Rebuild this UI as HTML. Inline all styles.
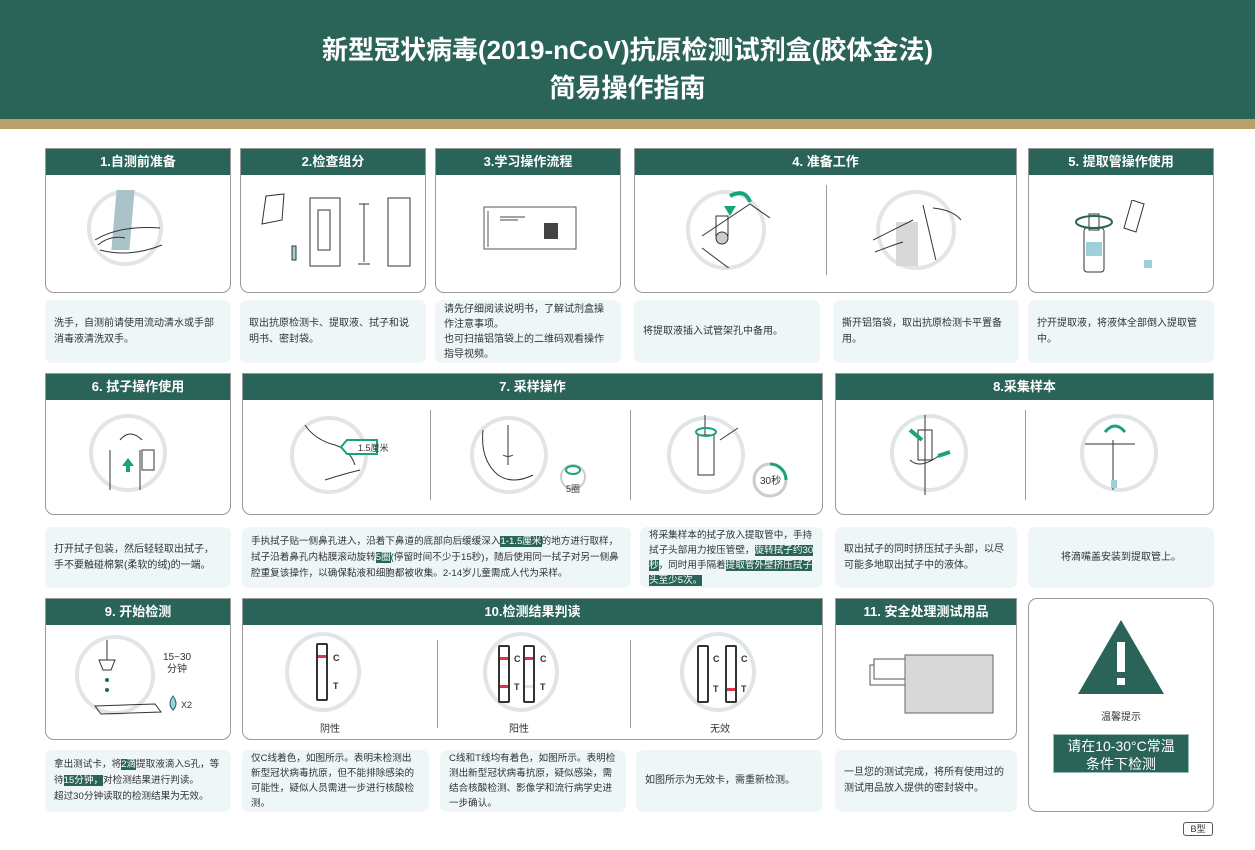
<!DOCTYPE html>
<html><head><meta charset="utf-8">
<style>
*{margin:0;padding:0;box-sizing:border-box}
body{width:1255px;height:850px;background:#fff;position:relative;overflow:hidden;font-family:"Liberation Sans","Noto Sans CJK SC",sans-serif;color:#333}
.top{position:absolute;left:0;top:0;width:1255px;height:119px;background:#2a6358;color:#fff;text-align:center;font-weight:bold;font-size:26px;line-height:38px;padding-top:31px}
.gold{position:absolute;left:0;top:119px;width:1255px;height:10px;background:#b9a06a}
.c{position:absolute;border:1px solid #999;border-radius:0 0 9px 9px;background:#fff;overflow:hidden}
.h{background:#2a6358;color:#fff;height:26px;line-height:26px;text-align:center;font-weight:bold;font-size:13px}
.t{position:absolute;background:#eef6f7;border-radius:7px;font-size:10px;line-height:16px;color:#333;display:flex;align-items:center;padding:0 9px}
.o{position:absolute;border:4px solid #dfe5e8;border-radius:50%}
.dv{position:absolute;width:1px;background:#999}
.hl{background:#2a6358;color:#fff}
.strip{position:absolute;width:12px;height:58px;border:2px solid #333;border-radius:2px;background:#fff}
.red{position:absolute;left:0;width:100%;height:3px;background:#e0304a}
.lb{position:absolute;font-size:9px;font-weight:bold}
.cap{position:absolute;font-size:10px;text-align:center;width:60px}
</style></head><body>
<div class="top">新型冠状病毒(2019-nCoV)抗原检测试剂盒(胶体金法)<br>简易操作指南</div>
<div class="gold"></div>

<!-- Row 1 -->
<div class="c" style="left:45px;top:148px;width:186px;height:145px"><div class="h">1.自测前准备</div></div>
<div class="c" style="left:240px;top:148px;width:186px;height:145px"><div class="h">2.检查组分</div></div>
<div class="c" style="left:435px;top:148px;width:186px;height:145px"><div class="h">3.学习操作流程</div></div>
<div class="c" style="left:634px;top:148px;width:383px;height:145px"><div class="h">4. 准备工作</div></div>
<div class="c" style="left:1028px;top:148px;width:186px;height:145px"><div class="h">5. 提取管操作使用</div></div>
<div class="dv" style="left:826px;top:185px;height:90px"></div>

<div class="o" style="left:87px;top:190px;width:76px;height:76px"></div>
<div style="position:absolute;left:114px;top:190px;width:18px;height:60px;background:#a9c3c8;transform:skewX(-5deg)"></div>
<svg style="position:absolute;left:90px;top:210px" width="80" height="50"><path d="M5 30 Q30 15 70 18 M10 40 Q40 48 72 35 M8 35 Q20 25 35 28" stroke="#333" fill="none"/></svg>

<svg style="position:absolute;left:258px;top:190px" width="160" height="80"><g stroke="#333" fill="none"><path d="M8 6 L26 4 L24 30 L4 34 Z"/><rect x="52" y="8" width="30" height="68"/><rect x="60" y="20" width="12" height="40"/><path d="M101 14 h10 M106 14 v58 M100 74 h12"/><rect x="130" y="8" width="22" height="68"/><rect x="34" y="56" width="4" height="14" fill="#9fd0d8"/></g></svg>

<svg style="position:absolute;left:480px;top:205px" width="100" height="50"><g stroke="#555" fill="none"><rect x="4" y="2" width="92" height="42"/><path d="M8 6 v36"/></g><rect x="64" y="18" width="14" height="16" fill="#444"/><path d="M20 12 h25 M20 15 h18" stroke="#444"/></svg>

<div class="o" style="left:686px;top:190px;width:80px;height:80px"></div>
<svg style="position:absolute;left:700px;top:188px" width="70" height="80"><path d="M30 8 Q45 0 50 14" stroke="#1aa37a" stroke-width="4" fill="none"/><path d="M24 18 l6 10 l6-10z" fill="#1aa37a"/><g stroke="#333" fill="none"><path d="M2 48 L50 16 L70 30 M2 60 L34 84"/><rect x="16" y="28" width="12" height="20"/><circle cx="22" cy="50" r="6" fill="#ccc"/></g></svg>
<div class="o" style="left:876px;top:190px;width:80px;height:80px"></div>
<div style="position:absolute;left:896px;top:222px;width:22px;height:44px;background:#d8d8d8"></div>
<svg style="position:absolute;left:873px;top:200px" width="90" height="60"><g stroke="#333" fill="none"><path d="M0 40 Q20 30 40 20 M2 52 Q20 45 30 42 M50 5 l14 60 M60 8 Q80 10 88 20"/></g></svg>

<svg style="position:absolute;left:1070px;top:200px" width="100" height="75"><g stroke="#333" fill="none"><rect x="14" y="28" width="20" height="44" rx="3"/><rect x="19" y="14" width="10" height="16"/><path d="M62 0 l12 4 l-8 28 l-12 -4z"/></g><rect x="16" y="42" width="16" height="14" fill="#9fd0d8"/><rect x="74" y="60" width="8" height="8" fill="#9fd0d8"/><ellipse cx="24" cy="22" rx="18" ry="6" stroke="#2a6358" stroke-width="2" fill="none"/></svg>

<div class="t" style="left:45px;top:300px;width:186px;height:63px"><div>洗手，自测前请使用流动清水或手部消毒液清洗双手。</div></div>
<div class="t" style="left:240px;top:300px;width:186px;height:63px"><div>取出抗原检测卡、提取液、拭子和说明书、密封袋。</div></div>
<div class="t" style="left:435px;top:300px;width:186px;height:63px;line-height:15px"><div>请先仔细阅读说明书，了解试剂盒操作注意事项。<br>也可扫描铝箔袋上的二维码观看操作指导视频。</div></div>
<div class="t" style="left:634px;top:300px;width:186px;height:63px"><div>将提取液插入试管架孔中备用。</div></div>
<div class="t" style="left:833px;top:300px;width:186px;height:63px"><div>撕开铝箔袋，取出抗原检测卡平置备用。</div></div>
<div class="t" style="left:1028px;top:300px;width:186px;height:63px"><div>拧开提取液，将液体全部倒入提取管中。</div></div>

<!-- Row 2 -->
<div class="c" style="left:45px;top:373px;width:186px;height:142px"><div class="h">6. 拭子操作使用</div></div>
<div class="c" style="left:242px;top:373px;width:581px;height:142px"><div class="h">7. 采样操作</div></div>
<div class="c" style="left:835px;top:373px;width:379px;height:142px"><div class="h">8.采集样本</div></div>
<div class="dv" style="left:430px;top:410px;height:90px"></div>
<div class="dv" style="left:630px;top:410px;height:90px"></div>
<div class="dv" style="left:1025px;top:410px;height:90px"></div>

<div class="o" style="left:89px;top:414px;width:78px;height:78px"></div>
<svg style="position:absolute;left:100px;top:420px" width="60" height="70"><g stroke="#333" fill="none"><path d="M10 70 V30 M40 70 V30 M20 20 Q30 8 42 20 M42 30 h12 v20 h-12z"/></g><path d="M22 46 l6-8 l6 8h-4v6h-4v-6z" fill="#1aa37a"/></svg>

<div class="o" style="left:290px;top:416px;width:78px;height:78px"></div>
<svg style="position:absolute;left:295px;top:420px" width="110" height="70"><g stroke="#333" fill="none"><path d="M10 5 Q20 20 40 25 Q55 30 60 45 M30 60 Q45 55 65 50"/></g><path d="M52 20 h30 v14 h-30 l-6 -7z" stroke="#1aa37a" fill="#fff" stroke-width="2"/><text x="63" y="31" font-size="9" fill="#333">1.5厘米</text></svg>

<div class="o" style="left:470px;top:416px;width:78px;height:78px"></div>
<svg style="position:absolute;left:478px;top:420px" width="110" height="80"><g stroke="#333" fill="none"><path d="M5 10 Q2 40 20 55 Q35 65 55 55 M25 35 q5 3 10 0 M30 5 v40"/></g><circle cx="95" cy="57" r="12" fill="#fff" stroke="#ccc" stroke-width="2"/><ellipse cx="95" cy="50" rx="7" ry="4" fill="none" stroke="#1aa37a" stroke-width="2"/><text x="88" y="72" font-size="9" fill="#333">5圈</text></svg>

<div class="o" style="left:667px;top:416px;width:78px;height:78px"></div>
<svg style="position:absolute;left:690px;top:410px" width="110" height="90"><g stroke="#333" fill="none"><path d="M15 5 v20 M8 25 h16 v40 h-16z M30 30 l18-12"/></g><ellipse cx="16" cy="22" rx="10" ry="4" fill="none" stroke="#1aa37a" stroke-width="2"/><circle cx="80" cy="70" r="16" fill="#fff" stroke="#ccc" stroke-width="3"/><path d="M80 54 A16 16 0 0 1 96 70" stroke="#1aa37a" stroke-width="3" fill="none"/><text x="70" y="74" font-size="10" fill="#333">30秒</text></svg>

<div class="o" style="left:890px;top:414px;width:78px;height:78px"></div>
<svg style="position:absolute;left:900px;top:410px" width="60" height="85"><g stroke="#333" fill="none"><path d="M25 5 v80 M18 20 h14 v30 h-14z M10 50 Q20 60 40 45"/></g><path d="M10 20 l12 10" stroke="#1aa37a" stroke-width="4"/><path d="M50 42 l-12 4" stroke="#1aa37a" stroke-width="4"/></svg>
<div class="o" style="left:1080px;top:414px;width:78px;height:78px"></div>
<svg style="position:absolute;left:1085px;top:420px" width="80" height="70"><g stroke="#333" fill="none"><path d="M0 24 h50 M28 20 v50"/></g><path d="M20 12 Q30 0 40 12" stroke="#1aa37a" stroke-width="3" fill="none"/><rect x="26" y="60" width="6" height="8" fill="#9fd0d8"/></svg>

<div class="t" style="left:45px;top:527px;width:186px;height:61px"><div>打开拭子包装，然后轻轻取出拭子，手不要触碰棉絮(柔软的绒)的一端。</div></div>
<div class="t" style="left:242px;top:527px;width:389px;height:61px;font-size:9.6px"><div>手执拭子贴一侧鼻孔进入，沿着下鼻道的底部向后缓缓深入<span class="hl">1-1.5厘米</span>的地方进行取样，拭子沿着鼻孔内粘膜滚动旋转<span class="hl">5圈</span>(停留时间不少于15秒)，随后使用同一拭子对另一侧鼻腔重复该操作，以确保黏液和细胞都被收集。2-14岁儿童需成人代为采样。</div></div>
<div class="t" style="left:640px;top:527px;width:183px;height:61px;font-size:9.6px;line-height:15px"><div>将采集样本的拭子放入提取管中，手持拭子头部用力按压管壁，<span class="hl">旋转拭子约30秒</span>，同时用手隔着<span class="hl">提取管外壁挤压拭子头至少5次。</span></div></div>
<div class="t" style="left:835px;top:527px;width:182px;height:61px"><div>取出拭子的同时挤压拭子头部，以尽可能多地取出拭子中的液体。</div></div>
<div class="t" style="left:1028px;top:527px;width:186px;height:61px;justify-content:center"><div>将滴嘴盖安装到提取管上。</div></div>

<!-- Row 3 -->
<div class="c" style="left:45px;top:598px;width:186px;height:142px"><div class="h">9. 开始检测</div></div>
<div class="c" style="left:242px;top:598px;width:581px;height:142px"><div class="h">10.检测结果判读</div></div>
<div class="c" style="left:835px;top:598px;width:182px;height:142px"><div class="h">11. 安全处理测试用品</div></div>
<div class="c" style="left:1028px;top:598px;width:186px;height:214px;border-radius:9px"></div>
<div class="dv" style="left:437px;top:640px;height:88px"></div>
<div class="dv" style="left:630px;top:640px;height:88px"></div>

<div class="o" style="left:75px;top:635px;width:80px;height:80px"></div>
<svg style="position:absolute;left:85px;top:640px" width="130" height="80"><g stroke="#333" fill="none"><path d="M22 0 v20 M14 20 h16 l-4 10 h-8z M10 66 l60 -2 l6 8 l-60 2z"/></g><circle cx="22" cy="40" r="2" fill="#2a6358"/><circle cx="22" cy="50" r="2" fill="#2a6358"/><text x="78" y="20" font-size="10" fill="#333">15~30</text><text x="82" y="32" font-size="10" fill="#333">分钟</text><path d="M88 56 q-6 8 0 14 q6-6 0-14z" fill="#9fd0d8" stroke="#2a6358"/><text x="96" y="68" font-size="9" fill="#333">X2</text></svg>

<div class="o" style="left:285px;top:632px;width:76px;height:80px"></div>
<div class="strip" style="left:316px;top:643px"><div class="red" style="top:10px"></div></div>
<div class="lb" style="left:333px;top:653px">C</div><div class="lb" style="left:333px;top:681px">T</div>
<div class="cap" style="left:300px;top:720px">阴性</div>

<div class="o" style="left:483px;top:632px;width:76px;height:80px"></div>
<div class="strip" style="left:498px;top:645px"><div class="red" style="top:10px"></div><div class="red" style="top:38px"></div></div>
<div class="lb" style="left:514px;top:654px">C</div><div class="lb" style="left:514px;top:682px">T</div>
<div class="strip" style="left:523px;top:645px"><div class="red" style="top:10px"></div><div class="red" style="top:38px;background:#f6dcd8"></div></div>
<div class="lb" style="left:540px;top:654px">C</div><div class="lb" style="left:540px;top:682px">T</div>
<div class="cap" style="left:489px;top:720px">阳性</div>

<div class="o" style="left:680px;top:632px;width:76px;height:80px"></div>
<div class="strip" style="left:697px;top:645px"></div>
<div class="lb" style="left:713px;top:654px">C</div><div class="lb" style="left:713px;top:684px">T</div>
<div class="strip" style="left:725px;top:645px"><div class="red" style="top:41px"></div></div>
<div class="lb" style="left:741px;top:654px">C</div><div class="lb" style="left:741px;top:684px">T</div>
<div class="cap" style="left:690px;top:720px">无效</div>

<svg style="position:absolute;left:860px;top:645px" width="140" height="80"><g stroke="#555" fill="none"><rect x="10" y="20" width="40" height="20"/><rect x="14" y="14" width="40" height="20" fill="#fff"/></g><rect x="45" y="10" width="88" height="58" fill="#d8d8d8" stroke="#666"/></svg>

<svg style="position:absolute;left:1076px;top:618px" width="90" height="78"><path d="M45 2 L88 76 L2 76 Z" fill="#2a6358"/><rect x="41" y="24" width="8" height="30" fill="#fff"/><rect x="41" y="60" width="8" height="7" fill="#fff"/></svg>
<div style="position:absolute;left:1028px;top:708px;width:186px;text-align:center;font-size:10px">温馨提示</div>
<div style="position:absolute;left:1053px;top:734px;width:136px;height:39px;background:#2a6358;color:#fff;font-size:14px;line-height:18px;text-align:center;padding-top:2px;border:1px solid #9bb">请在10-30°C常温<br>条件下检测</div>
<div style="position:absolute;left:1183px;top:822px;width:30px;height:14px;border:1px solid #555;border-radius:3px;font-size:9px;line-height:12px;text-align:center">B型</div>

<div class="t" style="left:45px;top:750px;width:186px;height:62px;font-size:9.6px"><div>拿出测试卡，将<span class="hl">2滴</span>提取液滴入S孔，等待<span class="hl">15分钟，</span>对检测结果进行判读。<br>超过30分钟读取的检测结果为无效。</div></div>
<div class="t" style="left:242px;top:750px;width:187px;height:62px;font-size:9.6px;line-height:15px"><div>仅C线着色，如图所示。表明未检测出新型冠状病毒抗原，但不能排除感染的可能性，疑似人员需进一步进行核酸检测。</div></div>
<div class="t" style="left:440px;top:750px;width:186px;height:62px;font-size:9.6px;line-height:15px"><div>C线和T线均有着色，如图所示。表明检测出新型冠状病毒抗原，疑似感染，需结合核酸检测、影像学和流行病学史进一步确认。</div></div>
<div class="t" style="left:636px;top:750px;width:186px;height:62px"><div>如图所示为无效卡，需重新检测。</div></div>
<div class="t" style="left:835px;top:750px;width:182px;height:62px"><div>一旦您的测试完成，将所有使用过的测试用品放入提供的密封袋中。</div></div>
</body></html>
